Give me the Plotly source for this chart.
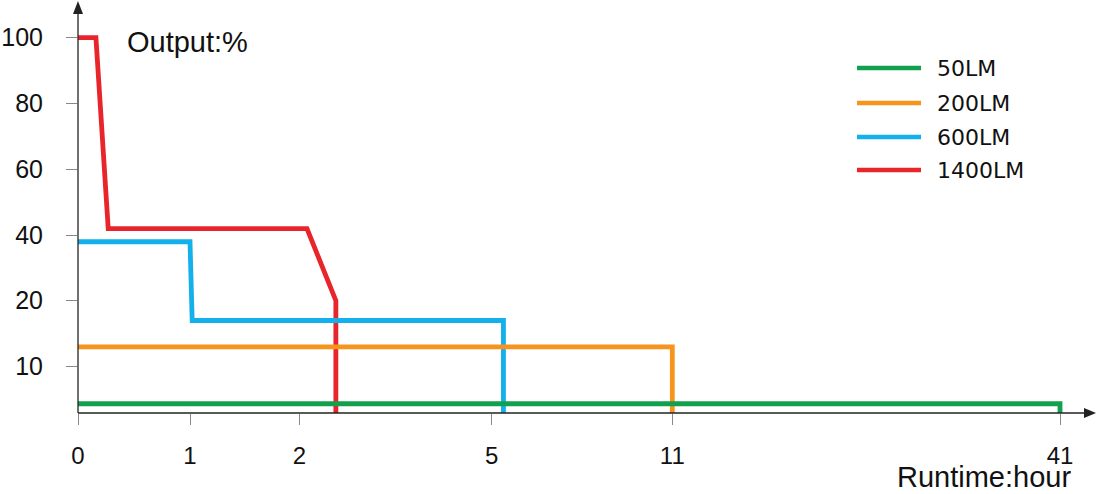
import numpy as np
import plotly.graph_objects as go

# ---------------- data ----------------
series_names = ["50LM", "200LM", "600LM", "1400LM"]
hours_50 = [0, 41, 41]
output_50 = [2, 2, 0]
hours_200 = [0, 11, 11]
output_200 = [13, 13, 0]
hours_600 = [0, 1.0, 1.02, 5.39, 5.39]
output_600 = [38, 38, 17, 17, 0]
hours_1400 = [0, 0.16, 0.27, 2.12, 2.57, 2.57]
output_1400 = [100, 100, 42, 42, 20, 0]
x_tick_labels = [0, 1, 2, 5, 11, 41]
y_tick_labels = [10, 20, 40, 60, 80, 100]

# ---------------- non-linear axis scales of the original drawing ----------------
X_BREAK_POS = [0, 112, 221.3, 413.7, 594.3, 982]
Y_BREAK_VAL = [0] + y_tick_labels
Y_BREAK_POS = [0, 46.3, 112.3, 177.8, 243.3, 309.3, 375.3]


def sx(v):
    return np.interp(v, x_tick_labels, X_BREAK_POS)


def sy(v):
    return np.interp(v, Y_BREAK_VAL, Y_BREAK_POS)


W, H = 1100, 494
ML, MR, MT, MB = 78, 2, 0, 81
PW, PH = W - ML - MR, H - MT - MB


def px(xpix):
    return (xpix - ML) / PW


def py(ypix):
    return (H - MB - ypix) / PH


colors = {"50LM": "#12a04e", "200LM": "#f7941d", "600LM": "#13b0ec", "1400LM": "#e8252b"}
series = {
    "50LM": (hours_50, output_50),
    "200LM": (hours_200, output_200),
    "600LM": (hours_600, output_600),
    "1400LM": (hours_1400, output_1400),
}

fig = go.Figure()
for name in ["1400LM", "600LM", "200LM", "50LM"]:
    xs, ys = series[name]
    fig.add_trace(go.Scatter(
        x=sx(xs), y=sy(ys), mode="lines", name=name,
        line=dict(color=colors[name], width=4.8),
        showlegend=False, hoverinfo="skip",
    ))

shapes = []
axis_col = "#222222"
# axis lines
shapes.append(dict(type="line", xref="paper", yref="paper", x0=px(78), x1=px(1086),
                   y0=py(413), y1=py(413), line=dict(color=axis_col, width=1.3)))
shapes.append(dict(type="line", xref="paper", yref="paper", x0=px(78), x1=px(78),
                   y0=py(413), y1=py(12), line=dict(color=axis_col, width=1.3)))
# arrow heads
shapes.append(dict(type="path", xref="paper", yref="paper",
                   path=f"M {px(78)},{py(1)} L {px(83)},{py(14)} L {px(73)},{py(14)} Z",
                   fillcolor=axis_col, line=dict(width=0)))
shapes.append(dict(type="path", xref="paper", yref="paper",
                   path=f"M {px(1096)},{py(413)} L {px(1084)},{py(408)} L {px(1084)},{py(418)} Z",
                   fillcolor=axis_col, line=dict(width=0)))

# legend (drawn manually)
annotations = []
legend_rows_y = [68, 103, 137, 170]
for name, yy in zip(series_names, legend_rows_y):
    shapes.append(dict(type="line", xref="paper", yref="paper", x0=px(857), x1=px(921),
                       y0=py(yy), y1=py(yy), line=dict(color=colors[name], width=4.5)))
    annotations.append(dict(xref="paper", yref="paper", x=px(935), y=py(yy), text=name,
                            showarrow=False, xanchor="left", yanchor="middle",
                            font=dict(family="DejaVu Sans", size=22, color="#111111")))

annotations.append(dict(xref="paper", yref="paper", x=px(125), y=py(42), text="Output:%",
                        showarrow=False, xanchor="left", yanchor="middle",
                        font=dict(family="Liberation Sans", size=29, color="#111111")))
annotations.append(dict(xref="paper", yref="paper", x=px(1072), y=py(494), text="Runtime:hour",
                        showarrow=False, xanchor="right", yanchor="bottom", borderpad=0,
                        font=dict(family="Liberation Sans", size=29, color="#111111")))

fig.update_layout(
    width=W, height=H,
    margin=dict(l=ML, r=MR, t=MT, b=MB, pad=0, autoexpand=False),
    paper_bgcolor="white", plot_bgcolor="white",
    shapes=shapes, annotations=annotations,
    xaxis=dict(range=[0, PW], tickmode="array", tickvals=sx(x_tick_labels),
               ticktext=[str(v) for v in x_tick_labels], automargin=False,
               ticks="outside", ticklen=11, tickcolor="#888888", tickwidth=1,
               showgrid=False, zeroline=False, showline=False, fixedrange=True,
               ticklabelstandoff=10,
               tickfont=dict(family="Liberation Sans", size=24, color="#111111")),
    yaxis=dict(range=[0, PH], tickmode="array", tickvals=sy(y_tick_labels),
               ticktext=[str(v) for v in y_tick_labels], automargin=False,
               ticks="outside", ticklen=11, tickcolor="#888888", tickwidth=1,
               showgrid=False, zeroline=False, showline=False, fixedrange=True,
               ticklabelstandoff=18,
               tickfont=dict(family="Liberation Sans", size=25, color="#111111")),
)

fig.write_html("out.html", post_script="document.body.style.margin='0';",
               config={"displayModeBar": False})
